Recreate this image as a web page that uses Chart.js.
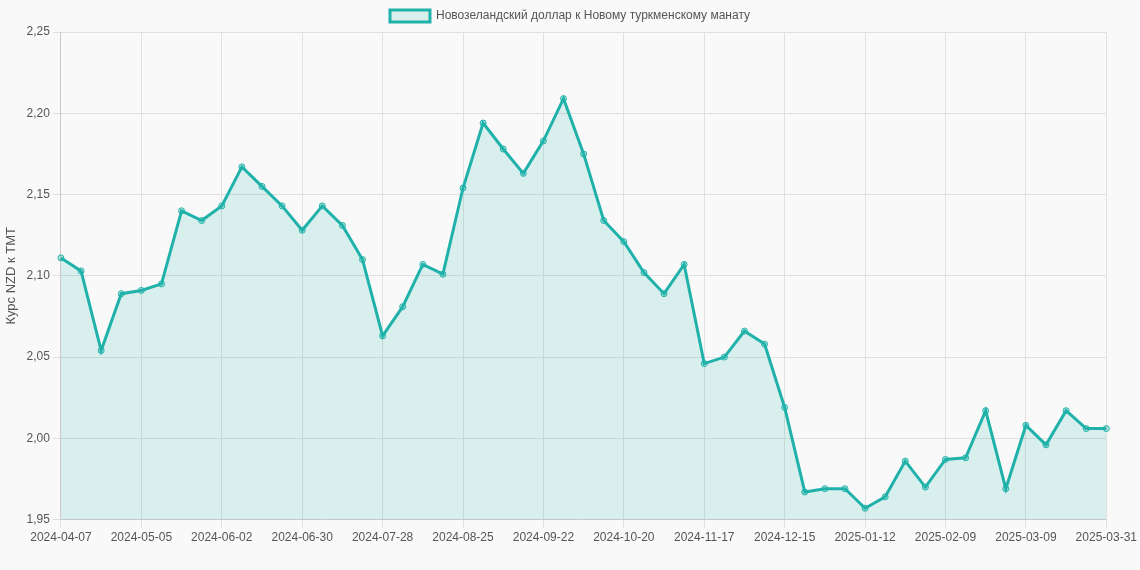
<!DOCTYPE html>
<html><head><meta charset="utf-8">
<script src="https://cdn.jsdelivr.net/npm/chart.js@4"></script>
<style>html,body{margin:0;background:#f9f9f9;}#w{width:1140px;height:570px;}</style>
</head><body><div id="w"><canvas id="c"></canvas></div>
<script>
const startDate = "2024-04-07";
const lastDate = "2025-03-31";
const values = [2.111,2.103,2.054,2.089,2.091,2.095,2.140,2.134,2.143,2.167,2.155,2.143,2.128,2.143,2.131,2.110,2.063,2.081,2.107,2.101,2.154,2.194,2.178,2.163,2.183,2.209,2.175,2.134,2.121,2.102,2.089,2.107,2.046,2.050,2.066,2.058,2.019,1.967,1.969,1.969,1.957,1.964,1.986,1.970,1.987,1.988,2.017,1.969,2.008,1.996,2.017,2.006,2.006];
const labels = [];
{ const d = new Date(startDate+"T00:00:00Z");
  for (let i=0;i<values.length-1;i++){ labels.push(d.toISOString().slice(0,10)); d.setUTCDate(d.getUTCDate()+7); }
  labels.push(lastDate); }
const seriesName = "Новозеландский доллар к Новому туркменскому манату";
const yTitle = "Курс NZD к ТМТ";
Chart.defaults.font.family = "'Liberation Sans', Arial, sans-serif";
new Chart(document.getElementById('c'), {
  type:'line',
  data:{labels, datasets:[{label:seriesName, data:values, borderColor:'#20b2aa', backgroundColor:'rgba(32,178,170,0.15)', fill:true, borderWidth:3, tension:0, pointRadius:3, pointBorderWidth:1, pointBackgroundColor:'rgba(32,178,170,0.3)', pointBorderColor:'#20b2aa'}]},
  options:{responsive:true, maintainAspectRatio:false, animation:false,
    layout:{padding:{bottom:22}},
    plugins:{legend:{labels:{color:'#555', font:{size:12}}}},
    scales:{
      x:{grid:{color:'#e0e0e0'}, ticks:{color:'#555', maxRotation:0, autoSkip:false, callback:function(v,i){return (i%4===0||i===labels.length-1)?labels[i]:null;}, font:{size:12}}},
      y:{min:1.95, max:2.25, grid:{color:'#e0e0e0'}, title:{display:true, text:yTitle, color:'#555', font:{size:13}}, ticks:{stepSize:0.05, color:'#555', callback:v=>v.toFixed(2).replace('.',','), font:{size:12}}}
    }}
});
</script></body></html>
